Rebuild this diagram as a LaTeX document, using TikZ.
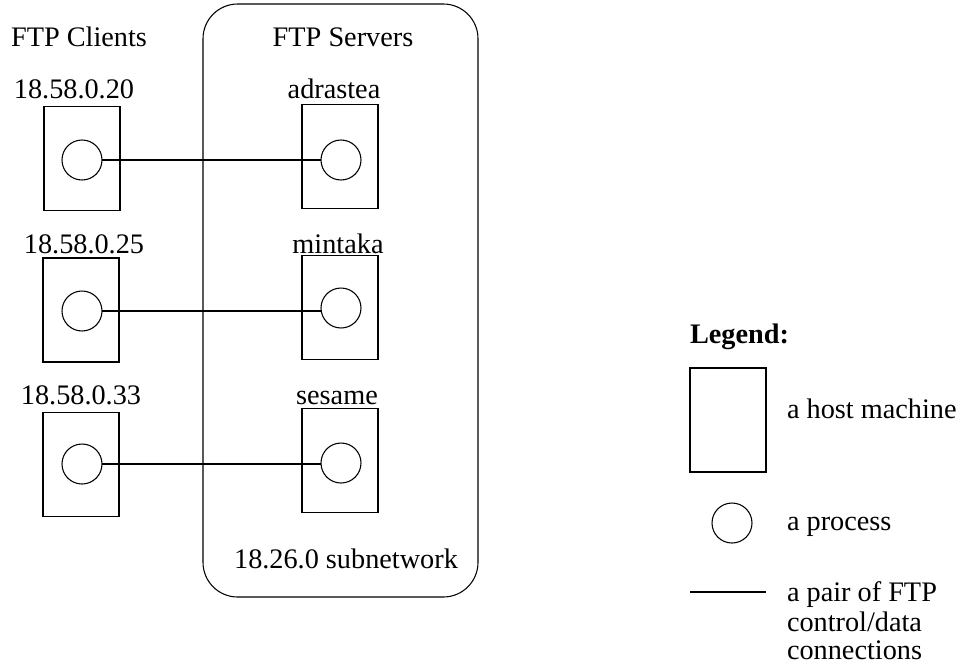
\documentclass[tikz,border=0pt]{standalone}
\usepackage{fontspec}
\setmainfont{Liberation Serif}
\begin{document}
\begin{tikzpicture}[x=0.75pt,y=-0.75pt,
  line width=0.8pt,
  every node/.style={font=\fontsize{21.2}{23.5}\selectfont, inner sep=0pt, outer sep=0pt},
  host/.style={draw, rectangle, minimum width=76*0.75pt, minimum height=104*0.75pt},
  proc/.style={draw, circle, minimum size=40*0.75pt},
  lbl/.style={anchor=base},
  ltxt/.style={anchor=base west}]
\useasboundingbox (0,0) rectangle (966,669);

% subnetwork
\node[draw, rectangle, rounded corners=26pt, minimum width=275*0.75pt, minimum height=593*0.75pt] (net) at (340.5,300.5) {};
\node[lbl] (clients) at (79,46) {FTP Clients};
\node[lbl] (servers) at (343,46) {FTP Servers};
\node[lbl] (subnet) at (346,568) {18.26.0 subnetwork};

% clients
\node[host] (c1) at (82,158.5) {};
\node[host] (c2) at (81,310) {};
\node[host] (c3) at (81,464.5) {};
\node[proc] (pc1) at (82,160) {};
\node[proc] (pc2) at (82,311) {};
\node[proc] (pc3) at (82,464) {};
\node[lbl] (l1) at (74,98) {18.58.0.20};
\node[lbl] (l2) at (84,253) {18.58.0.25};
\node[lbl] (l3) at (81,404) {18.58.0.33};

% servers
\node[host] (s1) at (340,156.5) {};
\node[host] (s2) at (340,307.5) {};
\node[host] (s3) at (340,460.5) {};
\node[proc] (ps1) at (341,160) {};
\node[proc] (ps2) at (341,308) {};
\node[proc] (ps3) at (341,463) {};
\node[lbl] (m1) at (334,98) {adrastea};
\node[lbl] (m2) at (338,253) {mintaka};
\node[lbl] (m3) at (337,404) {sesame};

% connections
\draw (pc1.east) -- (pc1.east -| ps1.west);
\draw (pc2.east) -- (pc2.east -| ps2.west);
\draw (pc3.east) -- (pc3.east -| ps3.west);

% legend
\node[ltxt, font=\fontsize{21.2}{23.5}\selectfont\bfseries] (leg) at (690,343) {Legend:};
\node[host] (lhost) at (728,420) {};
\node[ltxt] (thost) at (787,418) {a host machine};
\node[proc] (lproc) at (732,523) {};
\node[ltxt] (tproc) at (787,530) {a process};
\coordinate (la) at (690,592);
\coordinate (lb) at (766,592);
\draw (la) -- (lb);
\node[ltxt] (tconn1) at (787,601) {a pair of FTP};
\node[ltxt] (tconn2) at (787,631) {control/data};
\node[ltxt] (tconn3) at (787,659) {connections};
\end{tikzpicture}
\end{document}
